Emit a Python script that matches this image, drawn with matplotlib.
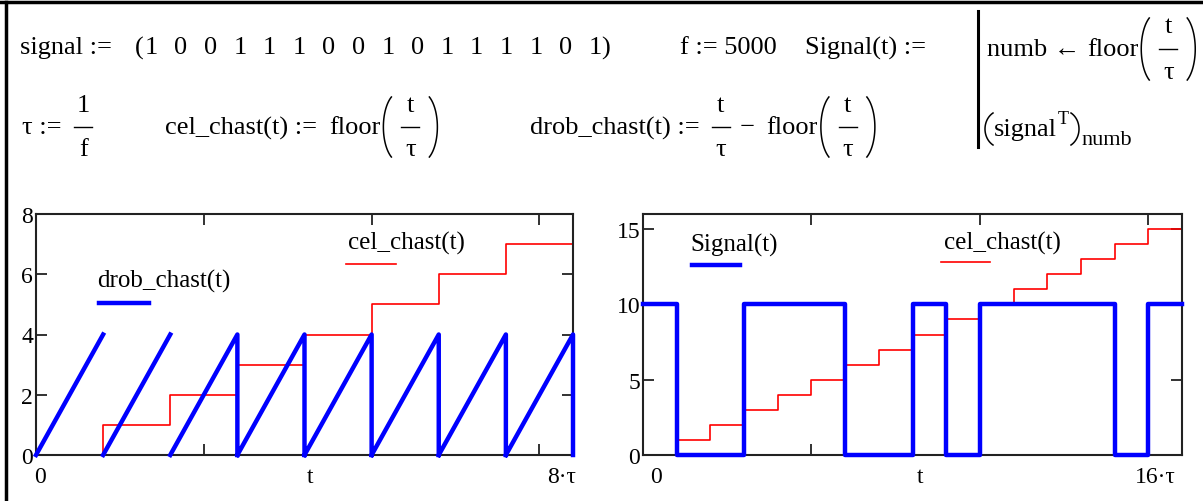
import numpy as np
import matplotlib
matplotlib.use("Agg")
import matplotlib.pyplot as plt
from matplotlib.lines import Line2D

plt.rcParams['font.family'] = ['Liberation Serif', 'DejaVu Serif']

# données (Mathcad)
signal = [1, 0, 0, 1, 1, 1, 0, 0, 1, 0, 1, 1, 1, 1, 0, 1]
f = 5000
tau = 1 / f
cel_gauche = [0, 1, 2, 3, 4, 5, 6, 7, 8]          # cel_chast(t) sur 0..8tau
cel_droite = [0, 1, 2, 3, 4, 5, 6, 7, 8, 9, 10, 11, 12, 13, 14, 15, 16]
drob_haut = [4, 4, 4, 4, 4, 4, 4, 4]              # sommet des dents de scie
drob_chute = [False, False, True, True, True, True, True, True]  # trait vertical visible
signal_echelle = 10

W, H = 1203, 502
fig = plt.figure(figsize=(W / 100, H / 100), dpi=100)
rend = fig.canvas.get_renderer()
FS = 19


def px(x, y):
    # pixels (origine en haut à gauche) -> coordonnées figure
    return x / W, 1 - y / H


def texte(x, y, s, size=FS, **kw):
    # écrit s (centre vertical en y) et renvoie le bord droit en pixels
    t = fig.text(*px(x, y), s, fontsize=size, va='center', **kw)
    bb = t.get_window_extent(rend)
    return bb.x1


def trait(x0, y0, x1, y1, **kw):
    fig.add_artist(Line2D([x0 / W, x1 / W], [1 - y0 / H, 1 - y1 / H], **kw))


def fraction(x, ybar, num, den, larg=20, dy=22):
    xc = x + larg / 2
    fig.text(*px(xc, ybar - dy), num, fontsize=FS, ha='center', va='center')
    fig.text(*px(xc, ybar + dy), den, fontsize=FS, ha='center', va='center')
    trait(x, ybar, x + larg, ybar, color='black', lw=1.0)
    return x + larg


def parenthese(x, ymid, demi_h=30, gauche=True):
    # parenthèse dessinée comme un arc d'ellipse, x = bord gauche
    a, b = 16, demi_h / 0.866
    if gauche:
        c, th = x + a, np.radians(np.linspace(120, 240, 40))
    else:
        c, th = x - a / 2, np.radians(np.linspace(-60, 60, 40))
    xs = (c + a * np.cos(th)) / W
    ys = 1 - (ymid - b * np.sin(th)) / H
    fig.add_artist(Line2D(xs, ys, color='black', lw=1.1))
    return x + a / 2


def floor_frac(x, y, demi_h=30):
    x = texte(x, y, "floor") + 3
    x = parenthese(x, y, demi_h) + 10
    x = fraction(x, y, "t", "τ", larg=18, dy=demi_h * 0.75)
    x = parenthese(x + 10, y, demi_h, gauche=False)
    return x


def style(ax, xmax, ymax, yt, xt):
    ax.set_xlim(0, xmax)
    ax.set_ylim(0, ymax)
    ax.set_yticks(yt)
    ax.set_yticklabels([str(v) for v in yt], fontsize=17)
    ax.set_xticks(xt)
    ax.set_xticklabels([])
    ax.tick_params(direction='in', length=8, width=1.3, color='#222222',
                   top=True, right=True, pad=2)
    for s in ax.spines.values():
        s.set_linewidth(1.5)
        s.set_color('#222222')


# ---- cadre + formules ----
trait(0, 3, W, 3, color='black', lw=2.5)
trait(6, 3, 6, H, color='black', lw=2.5)

# ligne 1
texte(20, 48, "signal :=")
texte(135, 48, "(")
for i, v in enumerate(signal):
    fig.text(*px(151 + i * 29.6, 48), str(v), fontsize=FS, ha='center', va='center')
texte(601, 48, ")")
texte(680, 48, "f := 5000")
texte(805, 48, "Signal(t) :=")
trait(978, 12, 978, 148, color='black', lw=2.2)
x = texte(987, 50, "numb ← ")
floor_frac(x, 50, demi_h=31)
x = parenthese(985, 130, demi_h=16) + 1
x = texte(x, 130, "signal")
x = texte(x + 1, 119, "T", size=13)
x = parenthese(x + 2, 130, demi_h=16, gauche=False)
texte(x + 2, 141, "numb", size=16)

# ligne 2
x = texte(22, 128, "τ := ") + 6
fraction(x, 128, "1", "f", larg=18)
x = texte(165, 128, "cel_chast(t) :=") + 12
floor_frac(x, 128)
x = texte(530, 128, "drob_chast(t) :=") + 12
x = fraction(x, 128, "t", "τ", larg=18) + 10
x = texte(x, 128, "−") + 12
floor_frac(x, 128)

# ---- graphique de gauche ----
ax1 = fig.add_axes([36 / W, 1 - 456 / H, 537 / W, 241 / H])
style(ax1, 8 * tau, 8, [0, 2, 4, 6, 8], [0.0005, 0.001, 0.0015])
t_g = [k * tau for k in range(len(cel_gauche))]
ax1.step(t_g, cel_gauche, where='post', color='red', lw=1.2, zorder=2)
xs, ys = [], []
for k, (h, chute) in enumerate(zip(drob_haut, drob_chute)):
    xs += [k * tau, (k + 1) * tau]
    ys += [0, h]
    if chute:
        xs += [(k + 1) * tau]
        ys += [0]
    xs.append(np.nan)
    ys.append(np.nan)
ax1.plot(xs, ys, color='blue', lw=3.2, zorder=3, clip_on=False)

texte(97, 281, "drob_chast(t)", size=18)
trait(99, 304, 149, 304, color='blue', lw=3.2)
texte(348, 243, "cel_chast(t)", size=18)
trait(346, 265, 396, 265, color='red', lw=1.2)
fig.text(*px(40, 478), "0", fontsize=17, ha='center', va='center')
fig.text(*px(310, 478), "t", fontsize=17, ha='center', va='center')
fig.text(*px(576, 478), "8·τ", fontsize=17, ha='right', va='center')

# ---- graphique de droite ----
ax2 = fig.add_axes([643 / W, 1 - 456 / H, 539 / W, 241 / H])
style(ax2, 16 * tau, 16, [0, 5, 10, 15], [0.001, 0.002, 0.003])
t_d = [k * tau for k in range(len(cel_droite))]
ax2.step(t_d, cel_droite, where='post', color='red', lw=1.2, zorder=2)
sig_y = [v * signal_echelle for v in signal] + [signal[-1] * signal_echelle]
ax2.step(t_d, sig_y, where='post', color='blue', lw=3.2, zorder=3, clip_on=False)

texte(690, 245, "Signal(t)", size=18)
trait(692, 266, 740, 266, color='blue', lw=3.2)
texte(944, 243, "cel_chast(t)", size=18)
trait(941, 263, 990, 263, color='red', lw=1.2)
fig.text(*px(656, 478), "0", fontsize=17, ha='center', va='center')
fig.text(*px(920, 478), "t", fontsize=17, ha='center', va='center')
fig.text(*px(1176, 478), "16·τ", fontsize=17, ha='right', va='center')

fig.savefig("out.png", dpi=100)
